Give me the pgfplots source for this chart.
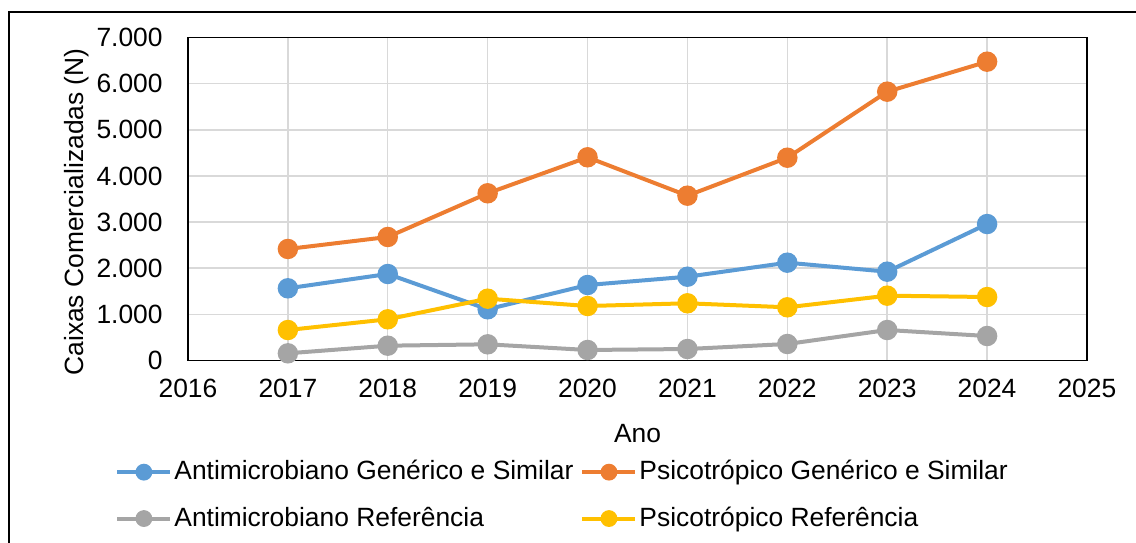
\documentclass[border=0pt]{standalone}
\usepackage{fontspec}
\setmainfont{Liberation Sans}
\usepackage{pgfplots}
\pgfplotsset{compat=1.18}
\definecolor{cblue}{HTML}{5B9BD5}
\definecolor{corange}{HTML}{ED7D31}
\definecolor{cgray}{HTML}{A5A5A5}
\definecolor{cyellow}{HTML}{FFC000}
\definecolor{cgrid}{HTML}{D9D9D9}
\begin{document}
\fontsize{13.2}{15.8}\selectfont
\begin{tikzpicture}
\begin{axis}[
  at={(94pt,-180.25pt)}, anchor=south west,
  scale only axis, width=449.5pt, height=161.5pt,
  xmin=2016, xmax=2025, ymin=0, ymax=7000,
  xtick={2016,2017,...,2025}, ytick={0,1000,...,7000},
  major tick length=0pt,
  grid=major, grid style={color=cgrid, line width=0.75pt},
  axis line style={line width=0.75pt},
  /pgf/number format/assume math mode=true,
  /pgf/number format/1000 sep={.},
  xticklabel style={/pgf/number format/1000 sep={}, anchor=north, inner sep=0pt, yshift=-9.25pt},
  yticklabel style={anchor=east, inner sep=0pt, xshift=-12.5pt},
  every axis x label/.style={at={(axis description cs:0.5,-0.196)}, anchor=north, inner sep=0pt},
  every axis y label/.style={at={(axis description cs:-0.1235,0.46)}, rotate=90, anchor=center, inner sep=0pt},
  xlabel={Ano}, ylabel={Caixas Comercializadas (N)},
  legend columns=2,
  legend cell align=left,
  legend style={at={(axis description cs:-0.0812,-0.302)}, anchor=north west, draw=none, fill=none,
    inner sep=0pt, row sep=9.5pt, nodes={inner sep=1pt},
    /tikz/every even column/.append style={column sep=2.5pt}},
  legend image code/.code={\draw[#1, mark repeat=2, mark phase=2, mark options={scale=0.78}] plot coordinates {(0pt,0pt) (13.25pt,0pt) (26.5pt,0pt)};},
  every axis plot/.append style={line width=2pt, mark=*, mark size=4.1pt},
]
\addplot[color=cblue, mark options={fill=cblue, draw=cblue}] coordinates {
(2017,1565) (2018,1875) (2019,1110) (2020,1636) (2021,1816) (2022,2120) (2023,1925) (2024,2958)};
\addlegendentry{Antimicrobiano Genérico e Similar}
\addplot[color=corange, mark options={fill=corange, draw=corange}] coordinates {
(2017,2417) (2018,2677) (2019,3624) (2020,4404) (2021,3572) (2022,4395) (2023,5826) (2024,6476)};
\addlegendentry{Psicotrópico Genérico e Similar}
\addplot[color=cgray, mark options={fill=cgray, draw=cgray}] coordinates {
(2017,156) (2018,321) (2019,351) (2020,228) (2021,249) (2022,358) (2023,661) (2024,531)};
\addlegendentry{Antimicrobiano Referência}
\addplot[color=cyellow, mark options={fill=cyellow, draw=cyellow}] coordinates {
(2017,661) (2018,893) (2019,1340) (2020,1181) (2021,1240) (2022,1153) (2023,1405) (2024,1376)};
\addlegendentry{Psicotrópico Referência}
\end{axis}
\draw[line width=1pt] (4.5pt,-6pt) rectangle (572pt,-275pt);
\pgfresetboundingbox
\useasboundingbox (0pt,0pt) rectangle (568pt,-271pt);
\end{tikzpicture}
\end{document}
